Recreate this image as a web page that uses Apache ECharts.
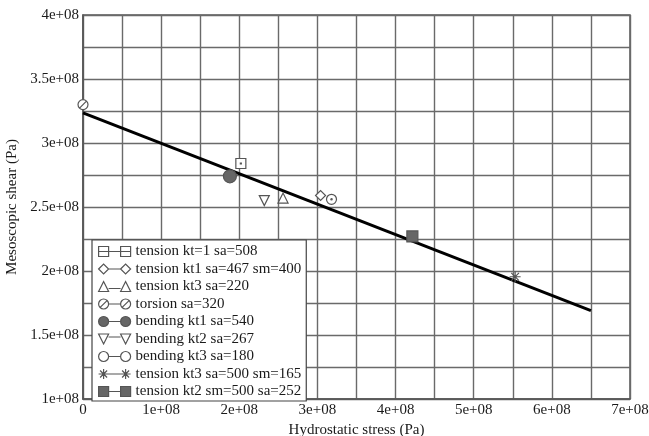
<!DOCTYPE html>
<html>
<head>
<meta charset="utf-8">
<script src="https://cdn.jsdelivr.net/npm/echarts@6/dist/echarts.min.js"></script>
<style>html,body{margin:0;padding:0;background:#fff;}#c{width:649px;height:436px;}</style>
</head>
<body>
<div id="c"></div>
<script>
// ---- data ----
const seriesNames = [
  'tension kt=1 sa=508',
  'tension kt1 sa=467 sm=400',
  'tension kt3 sa=220',
  'torsion sa=320',
  'bending kt1 sa=540',
  'bending kt2 sa=267',
  'bending kt3 sa=180',
  'tension kt3 sa=500 sm=165',
  'tension kt2 sm=500 sa=252'
];
const hydrostatic = [2.02e8, 3.04e8, 2.56e8, 0.0, 1.88e8, 2.32e8, 3.18e8, 5.53e8, 4.215e8];
const mesoShear   = [2.84e8, 2.59e8, 2.57e8, 3.30e8, 2.74e8, 2.55e8, 2.56e8, 1.955e8, 2.27e8];
const fitX = [0, 6.5e8];
const fitY = [3.235e8, 1.69e8];
const xTicks = [0, 7e8, 1e8];   // min, max, interval
const yTicks = [1e8, 4e8, 0.5e8];

// ---- styling ----
const G = '#555';
const circ = 'M0 5 A5 5 0 1 1 10 5 A5 5 0 1 1 0 5 Z';
const shapes = [
  {sym:'path://M0 0 H10 V10 H0 Z M4.5 4.5 H5.5 V5.5 H4.5 Z', leg:'M0 0 H10 V10 H0 Z M0 5 H32 M22 0 H32 V10 H22 Z', fill:'#fff', size:10},
  {sym:'path://M0 5 L5 0 L10 5 L5 10 Z', leg:'M0 5 L5 0 L10 5 L5 10 Z M10 5 H22 M22 5 L27 0 L32 5 L27 10 Z', fill:'#fff', size:10},
  {sym:'path://M0 10 L5 0 L10 10 Z', leg:'M0 10 L5 0 L10 10 Z M10 7 H22 M22 10 L27 0 L32 10 Z', fill:'#fff', size:10},
  {sym:'path://' + circ + ' M1.8 8.2 L8.2 1.8', leg: circ + ' M1.8 8.2 L8.2 1.8 M10 5 H22 M22 5 A5 5 0 1 1 32 5 A5 5 0 1 1 22 5 Z M23.8 8.2 L30.2 1.8', fill:'#fff', size:10},
  {sym:'circle', leg: circ + ' M10 5 H22 M22 5 A5 5 0 1 1 32 5 A5 5 0 1 1 22 5 Z', fill:'#666', size:13},
  {sym:'path://M0 0 L10 0 L5 10 Z', leg:'M0 0 L10 0 L5 10 Z M10 3 H22 M22 0 L32 0 L27 10 Z', fill:'#fff', size:10},
  {sym:'path://' + circ + ' M4.3 5 A0.7 0.7 0 1 1 5.7 5 A0.7 0.7 0 1 1 4.3 5 Z', leg: circ + ' M10 5 H22 M22 5 A5 5 0 1 1 32 5 A5 5 0 1 1 22 5 Z', fill:'#fff', size:10},
  {sym:'path://M5 0 V10 M0 5 H10 M1.5 1.5 L8.5 8.5 M8.5 1.5 L1.5 8.5', leg:'M5 0 V10 M0 5 H10 M1.5 1.5 L8.5 8.5 M8.5 1.5 L1.5 8.5 M10 5 H22 M27 0 V10 M22 5 H32 M23.5 1.5 L30.5 8.5 M30.5 1.5 L23.5 8.5', fill:'#555', size:11},
  {sym:'rect', leg:'M0 0 H10 V10 H0 Z M10 5 H22 M22 0 H32 V10 H22 Z', fill:'#666', size:11}
];

function sci(v){
  if (v === 0) return '0';
  const m = v / 1e8;
  return (Math.round(m*100)/100) + 'e+08';
}
const FONT = '"Liberation Serif", "DejaVu Serif", serif';
const FS = 15;
const TXT = '#1a1a1a';

const series = seriesNames.map((n, i) => ({
  name: n,
  type: 'scatter',
  symbol: shapes[i].sym,
  symbolSize: shapes[i].size,
  z: 5,
  itemStyle: {color: shapes[i].fill, borderColor: G, borderWidth: 1.2, opacity: 1},
  data: [[hydrostatic[i], mesoShear[i]]]
}));
series.unshift({
  name: 'fit', type: 'line', symbol: 'none', z: 3,
  lineStyle: {color: '#000', width: 3},
  data: fitX.map((x, i) => [x, fitY[i]])
});

const chart = echarts.init(document.getElementById('c'));
chart.setOption({
  animation: false,
  backgroundColor: '#fff',
  textStyle: {fontFamily: FONT},
  grid: {left: 83, right: 19, top: 15, bottom: 37, show: true, borderColor: '#555', borderWidth: 1.5,
         containLabel: false, outerBoundsMode: 'none'},
  xAxis: {
    type: 'value', min: xTicks[0], max: xTicks[1], interval: xTicks[2],
    name: 'Hydrostatic stress (Pa)', nameLocation: 'middle', nameGap: 19,
    nameTextStyle: {fontFamily: FONT, fontSize: FS, color: TXT},
    axisLine: {show: true, lineStyle: {color: '#555', width: 1.5}},
    axisTick: {show: false},
    axisLabel: {formatter: sci, fontFamily: FONT, fontSize: FS, color: TXT, margin: 4},
    splitLine: {show: true, lineStyle: {color: '#6a6a6a', width: 1.4}},
    minorTick: {show: false, splitNumber: 2},
    minorSplitLine: {show: true, lineStyle: {color: '#6a6a6a', width: 1.4}}
  },
  yAxis: {
    type: 'value', min: yTicks[0], max: yTicks[1], interval: yTicks[2],
    name: 'Mesoscopic shear (Pa)', nameLocation: 'middle', nameGap: 57,
    nameTextStyle: {fontFamily: FONT, fontSize: FS, color: TXT},
    axisLine: {show: true, lineStyle: {color: '#555', width: 1.5}},
    axisTick: {show: false},
    axisLabel: {formatter: sci, fontFamily: FONT, fontSize: FS, color: TXT, margin: 4},
    splitLine: {show: true, lineStyle: {color: '#6a6a6a', width: 1.4}},
    minorTick: {show: false, splitNumber: 2},
    minorSplitLine: {show: true, lineStyle: {color: '#6a6a6a', width: 1.4}}
  },
  legend: {
    orient: 'vertical', left: 92, top: 240, z: 10,
    backgroundColor: '#fff', borderColor: '#444', borderWidth: 1.2,
    padding: [4, 5, 2, 6], itemGap: 2.5,
    itemWidth: 32, itemHeight: 10,
    itemStyle: {borderWidth: 1.2},
    textStyle: {fontFamily: FONT, fontSize: FS, color: TXT, lineHeight: 15},
    selectedMode: false,
    data: seriesNames.map((n, i) => ({name: n, icon: 'path://' + shapes[i].leg}))
  },
  series: series
});
</script>
</body>
</html>
